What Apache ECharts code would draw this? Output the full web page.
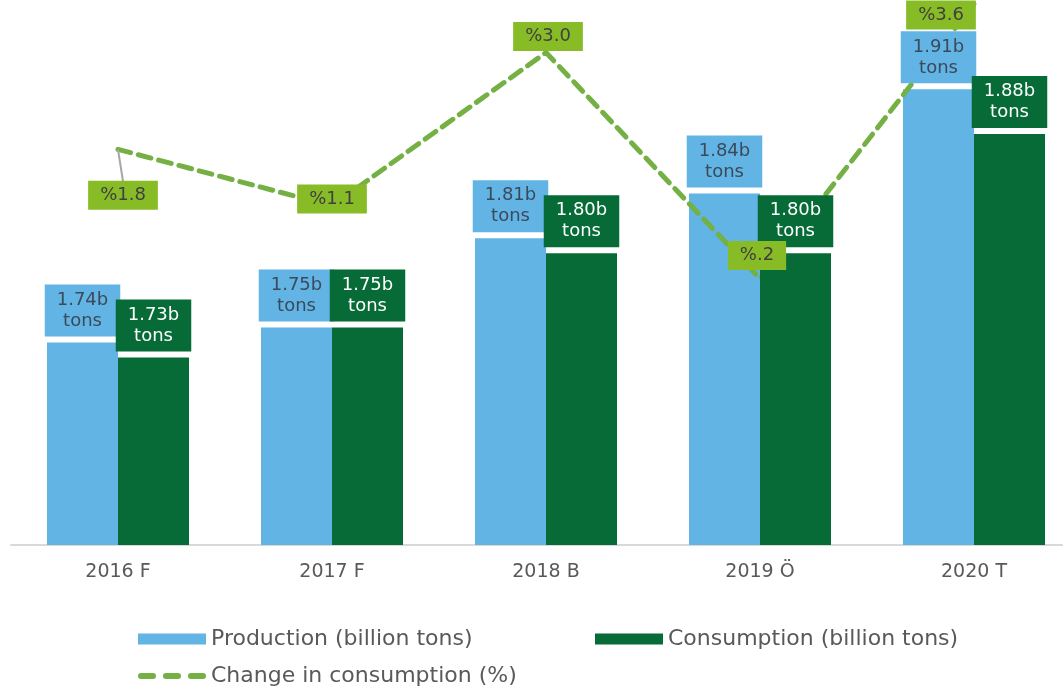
<!DOCTYPE html>
<html lang="en">
<head>
  <meta charset="UTF-8">
  <script src="https://cdn.jsdelivr.net/npm/echarts@6/dist/echarts.min.js"></script>
  <style>
    html, body { margin: 0; padding: 0; background: #fff; }
    #chart { width: 1063px; height: 687px; }
  </style>
</head>
<body>
  <div id="chart"></div>
  <script>
    // data
    const years = ['2016 F', '2017 F', '2018 B', '2019 Ö', '2020 T'];
    const production = [1.74, 1.75, 1.81, 1.84, 1.91];
    const consumption = [1.73, 1.75, 1.80, 1.80, 1.88];
    const change = [1.8, 1.1, 3.0, 0.2, 3.6];
    const changeText = ['%1.8', '%1.1', '%3.0', '%.2', '%3.6'];

    const font = 'DejaVu Sans, Verdana, sans-serif';
    const barW = 71;

    // where each % label sits relative to its point
    const lineLabelShift = [[5, 46], [0, -7], [2, -16], [-3, -23], [-33, 11]];

    const chart = echarts.init(document.getElementById('chart'));

    // value boxes above the bars, drawn on top of everything
    function barLabelSeries(values, shift, bg, fg) {
      return {
        type: 'custom',
        z: 5,
        silent: true,
        data: values.map((v, i) => [i, v]),
        renderItem: (params, api) => {
          const p = api.coord([api.value(0), api.value(1)]);
          return {
            type: 'text',
            x: p[0] + shift,
            y: p[1] - 6,
            style: {
              text: api.value(1).toFixed(2) + 'b\ntons',
              fill: fg,
              backgroundColor: bg,
              padding: [5, 12],
              font: '18px ' + font,
              lineHeight: 21,
              align: 'center',
              verticalAlign: 'bottom'
            }
          };
        }
      };
    }

    const legendText = { color: '#595959', fontSize: 22, fontFamily: font };

    // three rounded dashes for the line's legend key
    const dashIcon = 'path://M3,0h12a3,3 0 0 1 0,6h-12a3,3 0 0 1 0,-6z' +
      'M28,0h12a3,3 0 0 1 0,6h-12a3,3 0 0 1 0,-6z' +
      'M53,0h12a3,3 0 0 1 0,6h-12a3,3 0 0 1 0,-6z';

    const option = {
      animation: false,
      grid: { left: 11, right: -18, top: 0, bottom: 142, outerBoundsMode: 'none' },
      legend: [
        {
          data: ['Production (billion tons)'],
          left: 133, top: 623, icon: 'rect',
          itemWidth: 68, itemHeight: 11, itemGap: 6,
          textStyle: legendText
        },
        {
          data: ['Consumption (billion tons)'],
          left: 590, top: 623, icon: 'rect',
          itemWidth: 68, itemHeight: 11,
          textStyle: legendText
        },
        {
          data: [{ name: 'Change in consumption (%)', icon: dashIcon }],
          left: 133, top: 660,
          itemWidth: 68, itemHeight: 6,
          itemStyle: { color: '#74b043' },
          lineStyle: { opacity: 0 },
          textStyle: legendText
        }
      ],
      xAxis: {
        type: 'category',
        data: years,
        axisLine: { onZero: false, lineStyle: { color: '#d9d9d9', width: 2 } },
        axisTick: { show: false },
        axisLabel: { color: '#595959', fontSize: 19, fontFamily: font, margin: 18 }
      },
      yAxis: [
        { type: 'value', min: 1.604, max: 1.97, show: false, splitLine: { show: false } },
        { type: 'value', min: -3.1, max: 3.65, show: false, splitLine: { show: false } }
      ],
      series: [
        {
          name: 'Production (billion tons)',
          type: 'bar',
          z: 2,
          barWidth: barW,
          barGap: '0%',
          data: production,
          itemStyle: { color: '#62b4e4' }
        },
        {
          name: 'Change in consumption (%)',
          type: 'line',
          z: 3,
          yAxisIndex: 1,
          symbol: 'none',
          itemStyle: { color: '#74b043' },
          lineStyle: { color: '#74b043', width: 5, type: [13, 8], cap: 'round' },
          data: change
        },
        {
          name: 'Consumption (billion tons)',
          type: 'bar',
          z: 4,
          barWidth: barW,
          barGap: '0%',
          data: consumption,
          itemStyle: { color: '#066b37' }
        },
        barLabelSeries(production, -barW / 2, '#62b4e4', '#3b4a5a'),
        barLabelSeries(consumption, barW / 2, '#066b37', '#ffffff'),
        {
          // % boxes for the line, with a leader for the first one
          type: 'custom',
          z: 6,
          silent: true,
          yAxisIndex: 1,
          data: change.map((v, i) => [i, v]),
          renderItem: (params, api) => {
            const i = params.dataIndex;
            const p = api.coord([api.value(0), api.value(1)]);
            const s = lineLabelShift[i];
            const children = [];
            if (i === 0) {
              children.push({
                type: 'line',
                shape: { x1: p[0], y1: p[1], x2: p[0] + s[0], y2: p[1] + s[1] - 14 },
                style: { stroke: '#a6a6a6', lineWidth: 2 }
              });
            }
            children.push({
              type: 'text',
              x: p[0] + s[0],
              y: p[1] + s[1],
              style: {
                text: changeText[i],
                fill: '#404040',
                backgroundColor: '#88bc26',
                padding: [4, 12],
                font: '18px ' + font,
                lineHeight: 21,
                align: 'center',
                verticalAlign: 'middle'
              }
            });
            return { type: 'group', children: children };
          }
        }
      ]
    };
    chart.setOption(option);
  </script>
</body>
</html>
